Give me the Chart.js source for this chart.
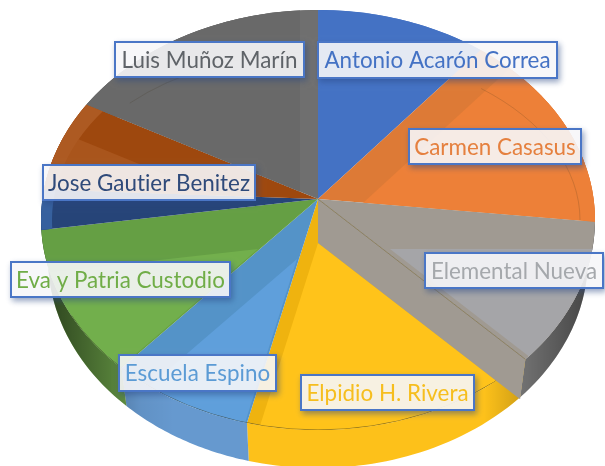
<!DOCTYPE html>
<html>
<head>
<meta charset="utf-8">
<style>
    html, body { margin: 0; padding: 0; background: #fff; }
    #pie { display: block; }
</style>
<script src="https://cdn.jsdelivr.net/npm/chart.js@4/dist/chart.umd.min.js"></script>
</head>
<body>
<canvas id="pie" width="605" height="466"></canvas>
<script>
// Values, as seen angle of each slice
const schools = ['Antonio Acarón Correa', 'Carmen Casasus', 'Elemental Nueva', 'Elpidio H. Rivera',
    'Escuela Espino', 'Eva y Patria Custodio', 'Jose Gautier Benitez', '', 'Luis Muñoz Marín'];
const sliceValues = [47.5, 47.2, 33, 69.9, 31.7, 34.3, 8.4, 20.2, 67.8];

const wallColors = ['#4472C4', '#DD7A36', '#A09A92', '#EFB30F', '#5493C8', '#659F44', '#264478', '#9E480E', '#6F6F6F'];
const faceColors = ['#4472C4', '#ED8038', '#A5A5A8', '#FFC31A', '#5F9FDB', '#72AF4C', '#264478', '#A9551C', '#696969'];
const sideColors = ['#4472C4', '#ED7D31', '#8A8A8A', '#FDC11A', '#6699CF', '#6BA048', '#30568F', '#A9551C', '#696969'];
const textColors = ['#4472C4', '#E5803F', '#A5A8AC', '#F6BE1E', '#5B9BD5', '#70AD47', '#2F4A7A', '', '#5F6368'];

// How far each slice's inner face sits from the apex
const faceShift = [null, [45, 4], [72, 50], [0, 44], [-21, 60], [-60, 50], null, [5, 40], [-18, 0]];
// grey face has a flatter upper edge than the slice itself
const faceTilt = [0, 0, -4.7, 0, 0, 0, 0, 0, 0];

// Lighter strip along the outer edge of the two small slices
const stripColors = [null, null, null, null, null, null, '#36609E', '#AD5A22', null];

// Label boxes: left, top, right, bottom
const labelBoxes = [[317, 41, 558, 79], [408, 128, 582, 165], [424, 252, 604, 289], [300, 374, 475, 411],
    [118, 354, 277, 392], [10, 261, 231, 298], [42, 164, 256, 201], null, [114, 41, 305, 78]];

const rim = { x: 318, y: 220, rx: 277, ry: 210 };
const backRim = { x: 318, y: 220, rx: 262, ry: 168 };
const stripRim = { x: 318, y: 220, rx: 266, ry: 185 };
const sideDepth = 38;
const sideNarrow = 270 / 277;
const FAR = 900;

function rimHit(cx, cy, angle) {
    const dx = Math.cos(angle) / rim.rx;
    const dy = Math.sin(angle) / rim.ry;
    const ox = (cx - rim.x) / rim.rx;
    const oy = (cy - rim.y) / rim.ry;
    const a = dx * dx + dy * dy;
    const b = 2 * (ox * dx + oy * dy);
    const c = ox * ox + oy * oy - 1;
    const t = (-b + Math.sqrt(b * b - 4 * a * c)) / (2 * a);
    return { x: cx + Math.cos(angle) * t, y: cy + Math.sin(angle) * t };
}

function sideX(x) {
    return rim.x + (x - rim.x) * sideNarrow;
}

function drawSides(ctx, arcs) {
    arcs.forEach((arc, i) => {
        const pts = [];
        for (let s = 0; s <= 40; s++) {
            pts.push(rimHit(arc.x, arc.y, arc.startAngle + (arc.endAngle - arc.startAngle) * s / 40));
        }
        ctx.beginPath();
        pts.forEach((p, k) => (k ? ctx.lineTo(p.x, p.y) : ctx.moveTo(p.x, p.y)));
        pts.reverse().forEach(p => ctx.lineTo(sideX(p.x), p.y + sideDepth));
        ctx.closePath();
        ctx.fillStyle = sideColors[i];
        ctx.fill();
    });
    // side gets darker toward both ends of the pie
    const shade = ctx.createLinearGradient(rim.x - rim.rx, 0, rim.x + rim.rx, 0);
    shade.addColorStop(0.02, 'rgba(0,0,0,0.55)');
    shade.addColorStop(0.18, 'rgba(0,0,0,0.05)');
    shade.addColorStop(0.24, 'rgba(0,0,0,0)');
    shade.addColorStop(0.8, 'rgba(0,0,0,0)');
    shade.addColorStop(0.99, 'rgba(0,0,0,0.5)');
    ctx.beginPath();
    ctx.ellipse(rim.x, rim.y + sideDepth, rim.rx * sideNarrow, rim.ry, 0, 0, Math.PI);
    ctx.lineTo(rim.x - rim.rx, rim.y);
    ctx.ellipse(rim.x, rim.y, rim.rx, rim.ry, 0, Math.PI, 0, true);
    ctx.closePath();
    ctx.fillStyle = shade;
    ctx.fill();
}

function drawFaces(ctx, arcs) {
    arcs.forEach((arc, i) => {
        ctx.save();
        ctx.beginPath();
        ctx.moveTo(arc.x, arc.y);
        ctx.arc(arc.x, arc.y, FAR, arc.startAngle, arc.endAngle);
        ctx.closePath();
        ctx.clip();
        const shift = faceShift[i];
        if (shift) {
            const start = arc.startAngle + faceTilt[i] * Math.PI / 180;
            ctx.beginPath();
            ctx.moveTo(arc.x + shift[0], arc.y + shift[1]);
            ctx.arc(arc.x + shift[0], arc.y + shift[1], FAR, start, arc.endAngle);
            ctx.closePath();
            ctx.fillStyle = faceColors[i];
            ctx.fill();
        }
        if (stripColors[i]) {
            ctx.beginPath();
            ctx.rect(0, 0, 605, 466);
            ctx.ellipse(stripRim.x, stripRim.y, stripRim.rx, stripRim.ry, 0, 0, Math.PI * 2);
            ctx.fillStyle = stripColors[i];
            ctx.fill('evenodd');
        }
        ctx.restore();
    });
}

function drawLines(ctx) {
    ctx.lineWidth = 1;
    ctx.strokeStyle = 'rgba(60,50,30,0.18)';
    ctx.beginPath();
    ctx.ellipse(backRim.x, backRim.y, backRim.rx, backRim.ry, 0, Math.PI * 1.245, Math.PI * 1.478);
    ctx.stroke();
    ctx.beginPath();
    ctx.ellipse(backRim.x, backRim.y, backRim.rx, backRim.ry, 0, Math.PI * 1.714, Math.PI * 2);
    ctx.stroke();
    ctx.strokeStyle = 'rgba(50,50,30,0.55)';
    ctx.beginPath();
    ctx.ellipse(rim.x, rim.y, rim.rx, rim.ry, 0, Math.PI * 0.25, Math.PI * 0.85);
    ctx.stroke();
}

// the cut side of the grey slice, it hangs below the slice edge over the yellow one
function drawCutWall(ctx, arcs) {
    const arc = arcs[2];
    const p = rimHit(arc.x, arc.y, arc.endAngle);
    ctx.beginPath();
    ctx.moveTo(arc.x, arc.y);
    ctx.lineTo(p.x, p.y);
    ctx.lineTo(sideX(p.x), p.y + sideDepth + 2);
    ctx.lineTo(arc.x, arc.y + faceShift[3][1]);
    ctx.closePath();
    ctx.fillStyle = wallColors[2];
    ctx.fill();
    ctx.strokeStyle = 'rgba(90,85,70,0.5)';
    ctx.lineWidth = 1;
    ctx.beginPath();
    ctx.moveTo(arc.x, arc.y);
    ctx.lineTo(p.x, p.y);
    ctx.stroke();
}

function drawLabels(ctx) {
    ctx.font = '22.4px Lato';
    ctx.letterSpacing = '0.01px'; // keeps the "ti" ligature out
    ctx.textAlign = 'center';
    ctx.textBaseline = 'middle';
    schools.forEach((name, i) => {
        const box = labelBoxes[i];
        if (!box) return;
        const w = box[2] - box[0];
        const h = box[3] - box[1];
        // shadow only outside the box, the fill is see-through
        ctx.save();
        ctx.beginPath();
        ctx.rect(0, 0, 605, 466);
        ctx.rect(box[0], box[1], w, h);
        ctx.clip('evenodd');
        ctx.shadowColor = 'rgba(40,70,130,0.5)';
        ctx.shadowBlur = 6;
        ctx.shadowOffsetX = 2;
        ctx.shadowOffsetY = 3;
        ctx.fillStyle = '#fff';
        ctx.fillRect(box[0], box[1], w, h);
        ctx.restore();
        ctx.fillStyle = 'rgba(246,246,248,0.9)';
        ctx.fillRect(box[0], box[1], w, h);
        ctx.strokeStyle = '#4A76C6';
        ctx.lineWidth = 2;
        ctx.strokeRect(box[0] + 1, box[1] + 1, w - 2, h - 2);
        ctx.fillStyle = textColors[i];
        ctx.fillText(name, box[0] + w / 2, box[1] + h / 2 + 1);
    });
}

const pie3d = {
    id: 'pie3d',
    beforeDatasetsDraw(chart) {
        const ctx = chart.ctx;
        drawSides(ctx, chart.getDatasetMeta(0).data);
        ctx.save();
        ctx.beginPath();
        ctx.ellipse(rim.x, rim.y, rim.rx, rim.ry, 0, 0, Math.PI * 2);
        ctx.clip();
    },
    afterDatasetsDraw(chart) {
        const ctx = chart.ctx;
        const arcs = chart.getDatasetMeta(0).data;
        drawFaces(ctx, arcs);
        drawLines(ctx);
        ctx.restore();
        drawCutWall(ctx, arcs);
        drawLabels(ctx);
    }
};

new Chart(document.getElementById('pie'), {
    type: 'pie',
    data: {
        labels: schools,
        datasets: [{
            data: sliceValues,
            backgroundColor: wallColors,
            borderWidth: 0,
            radius: 340,
            clip: false
        }]
    },
    options: {
        responsive: false,
        animation: false,
        layout: { padding: { left: 31, right: 0, top: 0, bottom: 68 } },
        plugins: { legend: { display: false }, tooltip: { enabled: false } }
    },
    plugins: [pie3d]
});
</script>
</body>
</html>
